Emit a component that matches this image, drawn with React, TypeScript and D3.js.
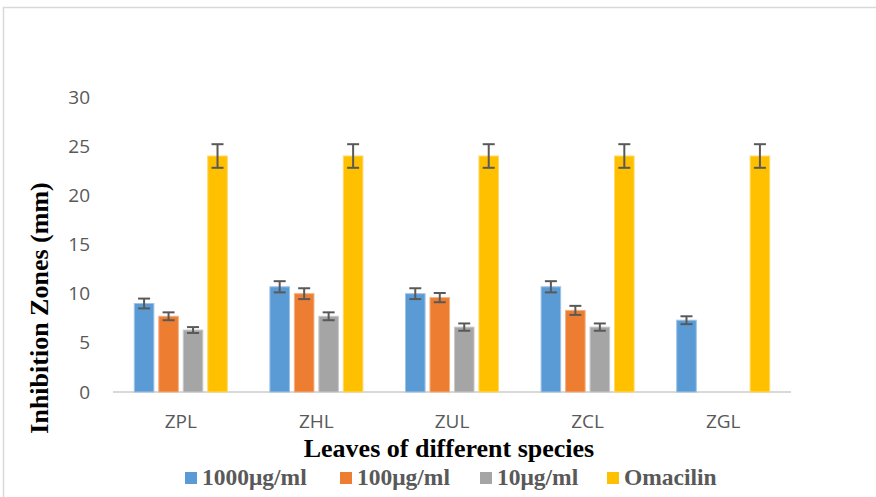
import React from "react";
import * as d3 from "d3";

const categories = ["ZPL", "ZHL", "ZUL", "ZCL", "ZGL"];
const seriesNames = ["1000μg/ml", "100μg/ml", "10μg/ml", "Omacilin"];
const seriesColors = ["#5B9BD5", "#ED7D31", "#A5A5A5", "#FFC000"];
const seriesStroke = ["#9DC3E6", "#F4B183", "#C9C9C9", "#FFD966"];
const v1000: (number | null)[] = [9.0, 10.7, 10.0, 10.7, 7.3];
const v100: (number | null)[] = [7.7, 10.0, 9.6, 8.3, null];
const v10: (number | null)[] = [6.3, 7.7, 6.6, 6.6, null];
const vOma: (number | null)[] = [24, 24, 24, 24, 24];
const e1000 = [0.5, 0.57, 0.55, 0.57, 0.4];
const e100 = [0.4, 0.55, 0.47, 0.46, 0];
const e10 = [0.3, 0.4, 0.37, 0.37, 0];
const eOma = [1.2, 1.2, 1.2, 1.2, 1.2];
const yTicks = [0, 5, 10, 15, 20, 25, 30];

const values = [v1000, v100, v10, vOma];
const errors = [e1000, e100, e10, eOma];

export default function App() {
  const W = 876, H = 497;
  const x0 = d3.scaleBand<string>().domain(categories).range([113, 791]).paddingInner(0.314).paddingOuter(0.157);
  const x1 = d3.scaleBand<number>().domain([0, 1, 2, 3]).range([0, x0.bandwidth()]).paddingInner(0.2);
  const y = d3.scaleLinear().domain([0, 30]).range([392, 97]);
  const tickFont = "'Open Sans', 'Noto Sans', sans-serif";
  const serif = "'Liberation Serif', 'Times New Roman', serif";
  const legendX = [185, 340, 480, 607];

  return (
    <svg width={W} height={H} style={{ position: "absolute", left: 0, top: 0, background: "#fff" }}>
      <rect x={3.5} y={7.5} width={W + 10} height={H + 10} fill="#fff" stroke="#D9D9D9" strokeWidth={1.5} />
      {yTicks.map((t) => (
        <text key={t} x={90} y={y(t)} dy="0.35em" textAnchor="end" fontFamily={tickFont} fontSize={19} fill="#595959">
          {t}
        </text>
      ))}
      <line x1={113} x2={791} y1={y(0)} y2={y(0)} stroke="#D9D9D9" strokeWidth={2} />
      {categories.map((c, ci) => (
        <g key={c} transform={`translate(${x0(c)},0)`}>
          {values.map((vals, si) => {
            const v = vals[ci];
            if (v == null) return null;
            const bx = x1(si)!;
            const bw = x1.bandwidth();
            const e = errors[si][ci];
            const cx = bx + bw / 2;
            return (
              <g key={si}>
                <rect x={bx} y={y(v)} width={bw} height={y(0) - y(v)} fill={seriesColors[si]} stroke={seriesStroke[si]} strokeWidth={1} />
                {e > 0 && (
                  <g stroke="#595959" strokeWidth={2}>
                    <line x1={cx} x2={cx} y1={y(v + e)} y2={y(v - e)} />
                    <line x1={cx - 6} x2={cx + 6} y1={y(v + e)} y2={y(v + e)} />
                    <line x1={cx - 6} x2={cx + 6} y1={y(v - e)} y2={y(v - e)} />
                  </g>
                )}
              </g>
            );
          })}
          <text x={x0.bandwidth() / 2} y={428} textAnchor="middle" fontFamily={tickFont} fontSize={19} fill="#595959">
            {c}
          </text>
        </g>
      ))}
      <text transform="translate(48,308) rotate(-90)" textAnchor="middle" fontFamily={serif} fontWeight="bold" fontSize={26} fill="#000">
        Inhibition Zones (mm)
      </text>
      <text x={449} y={457} textAnchor="middle" fontFamily={serif} fontWeight="bold" fontSize={26} fill="#000">
        Leaves of different species
      </text>
      {seriesNames.map((n, i) => (
        <g key={n}>
          <rect x={legendX[i]} y={472} width={12} height={12} fill={seriesColors[i]} />
          <text x={legendX[i] + 17} y={485} fontFamily={serif} fontWeight="bold" fontSize={23.5} fill="#595959">
            {n}
          </text>
        </g>
      ))}
    </svg>
  );
}
